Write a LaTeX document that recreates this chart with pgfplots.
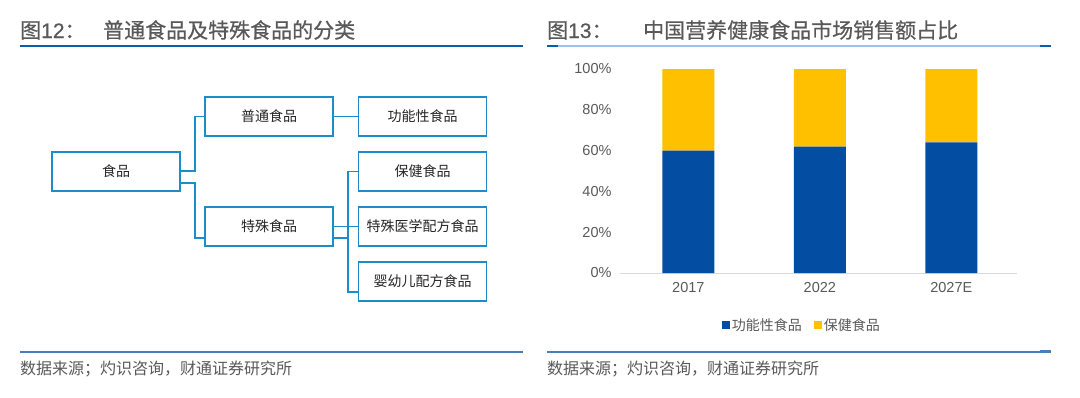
\documentclass[border=0pt]{standalone}
\usepackage{fontspec}
\setmainfont{Liberation Sans}
\newfontfamily\cjk{Noto Sans CJK SC}
\newfontfamily\cjkt[FakeBold=0.6]{Noto Sans CJK SC}
\newfontfamily\latt[FakeBold=0.6]{Liberation Sans}
\usepackage{pgfplots}
\pgfplotsset{compat=1.18}
\definecolor{boxblue}{HTML}{1E8CC8}
\definecolor{titleblue}{HTML}{0B5CAD}
\definecolor{lightblue}{HTML}{9DC3E6}
\definecolor{midblue}{HTML}{4A7EBB}
\definecolor{titlegray}{HTML}{595959}
\definecolor{labelgray}{HTML}{595959}
\definecolor{boxtext}{HTML}{262626}
\definecolor{barblue}{HTML}{034EA2}
\definecolor{baryellow}{HTML}{FFC000}
\definecolor{axisgray}{HTML}{D9D9D9}
\begin{document}
\begin{tikzpicture}
\begin{scope}[x=1pt,y=-1pt]
\path (0,0) rectangle (1080,397);
% titles
\node[anchor=base west, inner sep=0, text=titlegray, font=\fontsize{21}{21}\selectfont] at (20,38) {{\cjkt 图}{\latt 12}{\cjkt ：}};
\node[anchor=base west, inner sep=0, text=titlegray, font=\fontsize{21}{21}\selectfont] at (103,38) {\cjkt 普通食品及特殊食品的分类};
\node[anchor=base west, inner sep=0, text=titlegray, font=\fontsize{21}{21}\selectfont] at (547,38) {{\cjkt 图}{\latt 13}{\cjkt ：}};
\node[anchor=base west, inner sep=0, text=titlegray, font=\fontsize{21}{21}\selectfont] at (643,38) {\cjkt 中国营养健康食品市场销售额占比};
% title rules
\draw[titleblue, line width=2pt] (20,46) -- (523,46);
\draw[lightblue, line width=2pt] (547,46) -- (1051,46);
\draw[titleblue, line width=2pt] (547,46) -- (558,46);
\draw[titleblue, line width=2pt] (1040,46) -- (1051,46);
% bottom rules
\draw[midblue, line width=2pt] (20,352) -- (523,352);
\draw[midblue, line width=2pt] (547,352) -- (1051,352);
\draw[midblue, line width=3pt] (1040,351.5) -- (1051,351.5);
% sources
\node[anchor=west, inner sep=0, text=titlegray, font=\fontsize{16}{16}\selectfont] at (20,369) {\cjk 数据来源；灼识咨询，财通证券研究所};
\node[anchor=west, inner sep=0, text=titlegray, font=\fontsize{16}{16}\selectfont] at (547,369) {\cjk 数据来源；灼识咨询，财通证券研究所};
% connectors
\begin{scope}[boxblue, line width=1.3pt]
\draw (180,171) -- (195,171) -- (195,116.5) -- (205,116.5);
\draw (180,183) -- (195,183) -- (195,238) -- (205,238);
\draw (333,116.5) -- (358,116.5);
\draw (333,226.5) -- (358,226.5);
\draw (333,238) -- (348,238);
\draw (358,171.5) -- (348,171.5) -- (348,292) -- (358,292);
\end{scope}
% boxes
\begin{scope}[every node/.style={draw=boxblue, line width=1.5pt, fill=white, text=boxtext, font=\fontsize{14}{14}\selectfont\cjk, inner sep=0, minimum width=128pt, minimum height=39pt, anchor=center}]
\node at (116,171.5) {食品};
\node at (269,116.5) {普通食品};
\node at (269,226.5) {特殊食品};
\node at (422.5,116.5) {功能性食品};
\node at (422.5,171.5) {保健食品};
\node at (422.5,226.5) {特殊医学配方食品};
\node at (422.5,281.5) {婴幼儿配方食品};
\end{scope}
\end{scope}
\begin{axis}[
  at={(620pt,-273pt)}, anchor=south west,
  scale only axis, width=397pt, height=204pt,
  xmin=-0.52, xmax=2.5, ymin=0, ymax=100,
  ybar stacked, bar width=52pt,
  axis x line=bottom, axis y line=left,
  x axis line style={-, draw=axisgray, line width=1pt},
  y axis line style={-, draw=none},
  major tick length=0pt,
  xtick={0,1,2}, xticklabels={2017,2022,2027E},
  ytick={0,20,40,60,80,100}, yticklabels={0\%,20\%,40\%,60\%,80\%,100\%},
  tick label style={font=\fontsize{14.5}{14.5}\selectfont, text=labelgray},
  xticklabel style={yshift=-6pt},
  yticklabel style={xshift=-5pt},
  legend style={at={(0.458,-0.256)}, anchor=center, draw=none, fill=none,
    legend columns=2, font=\fontsize{14}{14}\selectfont\cjk, text=labelgray,
    /tikz/every even column/.append style={column sep=10pt}},
  legend cell align=left,
  clip=false,
]
\addplot[fill=barblue, draw=none, legend image code/.code={\fill[barblue] (0pt,-4pt) rectangle (8pt,4pt);}] coordinates {(0,60) (1,62) (2,64)};
\addlegendentry{功能性食品}
\addplot[fill=baryellow, draw=none, legend image code/.code={\fill[baryellow] (0pt,-4pt) rectangle (8pt,4pt);}] coordinates {(0,40) (1,38) (2,36)};
\addlegendentry{保健食品}
\end{axis}
\end{tikzpicture}
\end{document}
